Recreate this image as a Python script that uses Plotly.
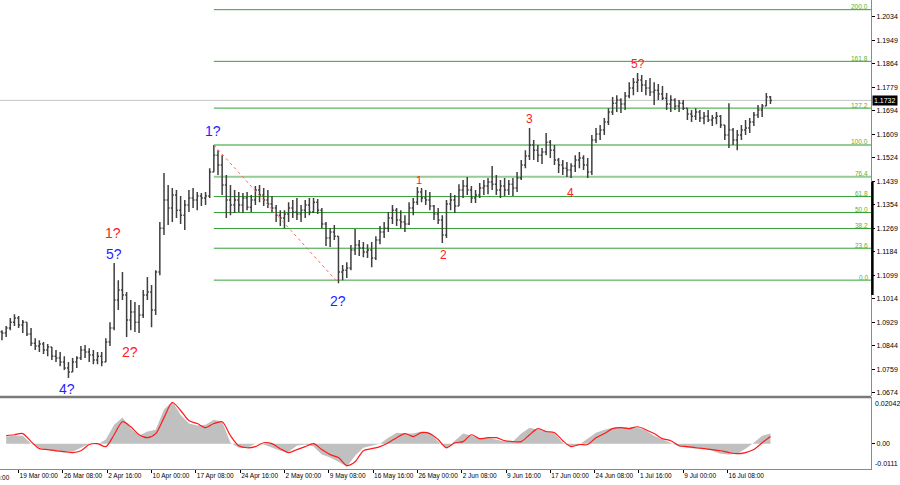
import plotly.graph_objects as go

# ---------------- DATA (EUR/USD, 12h bars) ----------------
highs = [
    1.0901, 1.0916, 1.0945, 1.0959, 1.0952, 1.0938, 1.0930, 1.0909, 1.0872, 1.0865,
    1.0858, 1.0851, 1.0840, 1.0829, 1.0822, 1.0807, 1.0786, 1.0800, 1.0807, 1.0844,
    1.0847, 1.0836, 1.0829, 1.0822, 1.0822, 1.0872, 1.0930, 1.1144, 1.1082, 1.1111,
    1.1039, 1.1010, 1.1003, 1.0992, 1.1046, 1.1093, 1.1064, 1.1118, 1.1292, 1.1469,
    1.1426, 1.1415, 1.1408, 1.1386, 1.1372, 1.1408, 1.1415, 1.1401, 1.1397, 1.1401,
    1.1487, 1.1571, 1.1552, 1.1534, 1.1462, 1.1426, 1.1408, 1.1401, 1.1397, 1.1401,
    1.1390, 1.1422, 1.1426, 1.1415, 1.1408, 1.1386, 1.1354, 1.1335, 1.1335, 1.1364,
    1.1372, 1.1379, 1.1354, 1.1372, 1.1379, 1.1379, 1.1375, 1.1343, 1.1292, 1.1270,
    1.1281, 1.1241, 1.1137, 1.1147, 1.1209, 1.1267, 1.1227, 1.1220, 1.1212, 1.1220,
    1.1241, 1.1278, 1.1292, 1.1328, 1.1354, 1.1343, 1.1335, 1.1317, 1.1364, 1.1379,
    1.1419, 1.1415, 1.1408, 1.1401, 1.1354, 1.1343, 1.1317, 1.1372, 1.1397, 1.1390,
    1.1429, 1.1444, 1.1455, 1.1422, 1.1408, 1.1433, 1.1444, 1.1451, 1.1495, 1.1462,
    1.1444, 1.1451, 1.1444, 1.1451, 1.1473, 1.1516, 1.1552, 1.1632, 1.1589, 1.1571,
    1.1560, 1.1614, 1.1589, 1.1571, 1.1524, 1.1516, 1.1509, 1.1505, 1.1534, 1.1545,
    1.1534, 1.1524, 1.1607, 1.1632, 1.1643, 1.1668, 1.1704, 1.1744, 1.1751, 1.1740,
    1.1762, 1.1798, 1.1813, 1.1831, 1.1824, 1.1806, 1.1813, 1.1798, 1.1791, 1.1784,
    1.1759, 1.1751, 1.1740, 1.1733, 1.1733, 1.1704, 1.1697, 1.1704, 1.1697, 1.1690,
    1.1697, 1.1679, 1.1690, 1.1679, 1.1643, 1.1722, 1.1632, 1.1625, 1.1643, 1.1661,
    1.1668, 1.1690, 1.1715, 1.1719, 1.1759, 1.1748,
]
lows = [
    1.0865, 1.0876, 1.0901, 1.0916, 1.0909, 1.0891, 1.0880, 1.0844, 1.0829, 1.0822,
    1.0815, 1.0807, 1.0793, 1.0786, 1.0771, 1.0757, 1.0728, 1.0750, 1.0764, 1.0793,
    1.0800, 1.0786, 1.0778, 1.0778, 1.0771, 1.0786, 1.0844, 1.0901, 1.0974, 1.1010,
    1.0876, 1.0901, 1.0894, 1.0891, 1.0945, 1.1010, 1.0912, 1.0956, 1.1100, 1.1245,
    1.1281, 1.1292, 1.1307, 1.1285, 1.1263, 1.1328, 1.1343, 1.1335, 1.1350, 1.1354,
    1.1379, 1.1473, 1.1462, 1.1390, 1.1307, 1.1317, 1.1325, 1.1328, 1.1325, 1.1335,
    1.1328, 1.1354, 1.1364, 1.1350, 1.1343, 1.1328, 1.1292, 1.1278, 1.1270, 1.1292,
    1.1307, 1.1299, 1.1292, 1.1307, 1.1317, 1.1325, 1.1321, 1.1270, 1.1205, 1.1202,
    1.1227, 1.1071, 1.1082, 1.1090, 1.1118, 1.1173, 1.1169, 1.1165, 1.1162, 1.1129,
    1.1155, 1.1212, 1.1234, 1.1256, 1.1285, 1.1278, 1.1270, 1.1256, 1.1281, 1.1317,
    1.1354, 1.1364, 1.1354, 1.1335, 1.1299, 1.1285, 1.1216, 1.1234, 1.1335, 1.1325,
    1.1350, 1.1379, 1.1390, 1.1361, 1.1361, 1.1379, 1.1390, 1.1393, 1.1408, 1.1390,
    1.1379, 1.1386, 1.1390, 1.1386, 1.1401, 1.1444, 1.1487, 1.1516, 1.1516, 1.1509,
    1.1502, 1.1534, 1.1524, 1.1498, 1.1469, 1.1462, 1.1455, 1.1451, 1.1473, 1.1487,
    1.1480, 1.1451, 1.1462, 1.1578, 1.1589, 1.1607, 1.1643, 1.1679, 1.1690, 1.1686,
    1.1697, 1.1740, 1.1751, 1.1762, 1.1762, 1.1751, 1.1748, 1.1715, 1.1733, 1.1733,
    1.1697, 1.1690, 1.1697, 1.1690, 1.1697, 1.1661, 1.1654, 1.1661, 1.1654, 1.1646,
    1.1654, 1.1639, 1.1646, 1.1632, 1.1589, 1.1560, 1.1571, 1.1552, 1.1589, 1.1607,
    1.1614, 1.1639, 1.1668, 1.1672, 1.1712, 1.1719,
]
closes = [
    1.0891, 1.0909, 1.0930, 1.0945, 1.0920, 1.0930, 1.0887, 1.0854, 1.0844, 1.0851,
    1.0829, 1.0840, 1.0807, 1.0800, 1.0786, 1.0764, 1.0750, 1.0786, 1.0800, 1.0829,
    1.0822, 1.0811, 1.0793, 1.0807, 1.0786, 1.0858, 1.0909, 1.1010, 1.1046, 1.1028,
    1.0938, 1.0967, 1.0930, 1.0956, 1.1028, 1.1039, 1.0974, 1.1111, 1.1270, 1.1372,
    1.1343, 1.1390, 1.1335, 1.1317, 1.1354, 1.1379, 1.1372, 1.1386, 1.1379, 1.1386,
    1.1473, 1.1534, 1.1498, 1.1426, 1.1372, 1.1354, 1.1372, 1.1354, 1.1379, 1.1346,
    1.1372, 1.1408, 1.1390, 1.1372, 1.1357, 1.1343, 1.1317, 1.1307, 1.1321, 1.1343,
    1.1328, 1.1321, 1.1335, 1.1354, 1.1328, 1.1364, 1.1335, 1.1285, 1.1234, 1.1256,
    1.1241, 1.1111, 1.1118, 1.1126, 1.1191, 1.1209, 1.1198, 1.1184, 1.1191, 1.1162,
    1.1227, 1.1256, 1.1270, 1.1307, 1.1335, 1.1299, 1.1292, 1.1285, 1.1343, 1.1364,
    1.1401, 1.1379, 1.1372, 1.1350, 1.1321, 1.1299, 1.1245, 1.1357, 1.1372, 1.1350,
    1.1408, 1.1422, 1.1408, 1.1379, 1.1390, 1.1415, 1.1422, 1.1437, 1.1429, 1.1408,
    1.1422, 1.1408, 1.1429, 1.1415, 1.1451, 1.1498, 1.1531, 1.1571, 1.1552, 1.1534,
    1.1545, 1.1581, 1.1552, 1.1516, 1.1498, 1.1487, 1.1480, 1.1495, 1.1516, 1.1524,
    1.1498, 1.1473, 1.1589, 1.1610, 1.1625, 1.1654, 1.1690, 1.1722, 1.1733, 1.1719,
    1.1748, 1.1777, 1.1798, 1.1806, 1.1788, 1.1777, 1.1762, 1.1769, 1.1755, 1.1740,
    1.1719, 1.1733, 1.1712, 1.1722, 1.1704, 1.1683, 1.1675, 1.1690, 1.1668, 1.1675,
    1.1661, 1.1668, 1.1675, 1.1643, 1.1607, 1.1625, 1.1589, 1.1607, 1.1625, 1.1632,
    1.1654, 1.1679, 1.1697, 1.1712, 1.1744, 1.1732,
]
first_open = 1.0895

# Oscillator (histogram + red signal line), one value per two bars
osc_hist = [
    0.0031, 0.0035, 0.0035, 0.0, -0.0018, -0.0026, -0.0035, -0.0039, -0.0035, -0.0018,
    0.0, -0.0004, 0.0018, 0.0083, 0.0114, 0.0066, 0.0035, 0.0053, 0.0061, 0.0149,
    0.0184, 0.0127, 0.0088, 0.0079, 0.0083, 0.0105, 0.0096, 0.0004, -0.0018, -0.0018,
    0.0, -0.0004, -0.0018, -0.0031, -0.0035, -0.0009, -0.0004, -0.0013, -0.0048, -0.0061,
    -0.0079, -0.0101, -0.0053, -0.0018, -0.0009, 0.0, 0.0026, 0.0048, 0.0044, 0.0044,
    0.0053, 0.0048, 0.0009, -0.0022, 0.0013, 0.0044, 0.0035, 0.0022, 0.0026, 0.0018,
    0.0009, 0.0009, 0.0044, 0.0070, 0.0061, 0.0053, 0.0044, 0.0004, -0.0013, -0.0004,
    0.0022, 0.0048, 0.0061, 0.0070, 0.0074, 0.0070, 0.0070, 0.0057, 0.0035, 0.0018,
    0.0004, -0.0013, -0.0018, -0.0022, -0.0022, -0.0031, -0.0044, -0.0048, -0.0044, -0.0022,
    0.0004, 0.0035, 0.0044,
]
osc_signal = [
    0.0035, 0.0039, 0.0044, 0.0009, -0.0022, -0.0026, -0.0031, -0.0035, -0.0039, -0.0031,
    -0.0004, 0.0, -0.0013, 0.0039, 0.0096, 0.0074, 0.0039, 0.0026, 0.0044, 0.0114,
    0.0180, 0.0145, 0.0101, 0.0088, 0.0070, 0.0088, 0.0096, 0.0035, -0.0009, -0.0018,
    -0.0013, 0.0004, 0.0, -0.0022, -0.0039, -0.0026, -0.0013, 0.0, -0.0026, -0.0048,
    -0.0061, -0.0096, -0.0079, -0.0031, -0.0022, -0.0013, 0.0004, 0.0026, 0.0044, 0.0031,
    0.0048, 0.0044, 0.0018, -0.0018, 0.0004, 0.0009, 0.0039, 0.0022, 0.0026, 0.0026,
    0.0013, 0.0009, 0.0009, 0.0039, 0.0066, 0.0053, 0.0048, 0.0013, -0.0013, -0.0004,
    -0.0004, 0.0026, 0.0044, 0.0066, 0.0070, 0.0066, 0.0074, 0.0061, 0.0044, 0.0022,
    0.0013, -0.0009, -0.0013, -0.0018, -0.0022, -0.0026, -0.0031, -0.0039, -0.0044, -0.0039,
    -0.0026, 0.0004, 0.0031,
]

x_tick_labels = [
    "19 Mar 00:00", "26 Mar 08:00", "2 Apr 16:00", "10 Apr 00:00", "17 Apr 08:00",
    "24 Apr 16:00", "2 May 00:00", "9 May 08:00", "16 May 16:00", "26 May 00:00",
    "2 Jun 08:00", "9 Jun 16:00", "17 Jun 00:00", "24 Jun 08:00", "1 Jul 16:00",
    "9 Jul 00:00", "16 Jul 08:00",
]
first_partial_label = "14 Mar 16:00"

price_ticks = [1.2034, 1.1949, 1.1864, 1.1779, 1.1694, 1.1609, 1.1524, 1.1439, 1.1354,
               1.1269, 1.1184, 1.1099, 1.1014, 1.0929, 1.0844, 1.0759, 1.0674]
osc_top_label = "0.02042"
osc_zero_label = "0.00"
osc_bottom_label = "-0.0111"
osc_max = 0.02042
osc_min = -0.0111

fib_ratios = [0.0, 23.6, 38.2, 50.0, 61.8, 76.4, 100.0, 127.2, 161.8, 200.0]
fib_zero_price = 1.1082
fib_hundred_price = 1.1571
current_price = 1.1732

# wave labels: text, bar index, attached to 'high' or 'low'
wave_texts = ["4?", "5?", "1?", "2?", "1?", "2?", "1", "2", "3", "4", "5?"]
wave_bars = [16, 27, 27, 30, 51, 81, 100, 106, 127, 137, 153]
wave_sides = ["low", "high", "high", "low", "high", "low", "high", "low", "high", "low", "high"]

# ---------------- STYLE ----------------
FONT = "Liberation Sans, Arial, sans-serif"
BLUE = "#1f1fff"
RED = "#ff2020"
wave_colors = [BLUE, BLUE, RED, RED, BLUE, BLUE, RED, RED, RED, RED, RED]
wave_sizes = [14, 14, 14, 14, 14, 14, 11, 12, 12, 12, 12]
wave_yshift = [-1, -1, 20, -5, 4, -8, -1, -3, 0, -6, 0]
wave_xshift = [-1, 0, -1, 3, -1, 0, 2, 1, 0, -1, 0]

W, H = 900, 485
M_L, M_R, M_T, M_B = 0, 29, 0, 16
PLOT_H = H - M_T - M_B           # 469
PLOT_W = W - M_L - M_R           # 871
MAIN_BOTTOM = (PLOT_H - 396) / PLOT_H
OSC_TOP = (PLOT_H - 397) / PLOT_H
X_RANGE = [-0.44, 628.6]
PRICE_RANGE = [1.0663, 1.2095]

bar_x = [3 * i + 1 for i in range(len(closes))]
opens = []
prev = first_open
for hi, lo, cl in zip(highs, lows, closes):
    opens.append(min(max(prev, lo), hi))
    prev = cl
osc_x = [6 * k + 4 for k in range(len(osc_hist))]

fig = go.Figure()

fig.add_trace(go.Ohlc(
    x=bar_x, open=opens, high=highs, low=lows, close=closes,
    increasing=dict(line=dict(color="#3f3f3f", width=1.5)),
    decreasing=dict(line=dict(color="#3f3f3f", width=1.5)),
    tickwidth=0.35, xaxis="x", yaxis="y", hoverinfo="skip", showlegend=False,
))

fig.add_trace(go.Scatter(
    x=osc_x, y=osc_hist, xaxis="x2", yaxis="y2", mode="lines",
    line=dict(width=0, color="#c0c0c0"), fill="tozeroy", fillcolor="#c0c0c0",
    hoverinfo="skip", showlegend=False,
))
fig.add_trace(go.Scatter(
    x=osc_x, y=osc_signal, xaxis="x2", yaxis="y2", mode="lines",
    line=dict(width=1.2, color="#ff1a1a", shape="spline", smoothing=0.8),
    hoverinfo="skip", showlegend=False,
))

shapes = []
annotations = []

# current price line
shapes.append(dict(type="line", xref="x", yref="y", x0=X_RANGE[0], x1=X_RANGE[1],
                   y0=current_price, y1=current_price,
                   line=dict(color="#c4c4c4", width=1), layer="below"))

# fibonacci levels from the wave "1?" top to the right edge
fib_start = bar_x[wave_bars[4]]
for r in fib_ratios:
    lvl = fib_zero_price + r / 100.0 * (fib_hundred_price - fib_zero_price)
    soft = r in (76.4, 100.0)
    shapes.append(dict(type="line", xref="x", yref="y", x0=fib_start, x1=X_RANGE[1],
                       y0=lvl, y1=lvl, layer="below",
                       line=dict(color="#93cd93" if soft else "#35a035",
                                 width=2 if soft else 1)))
    annotations.append(dict(xref="paper", yref="y", x=1.0, y=lvl, xanchor="right",
                            yanchor="bottom", xshift=-1, yshift=-2.5, text=f"{r:.1f}",
                            showarrow=False,
                            font=dict(family=FONT, size=6.5, color="#5caf32")))

# dotted red line between wave 1? top and wave 2? bottom
shapes.append(dict(type="line", xref="x", yref="y",
                   x0=bar_x[wave_bars[4]], y0=highs[wave_bars[4]],
                   x1=bar_x[wave_bars[5]], y1=lows[wave_bars[5]],
                   line=dict(color="#ff6a6a", width=1, dash="dot")))

# panel separator and borders
shapes.append(dict(type="line", xref="paper", yref="paper", x0=0, x1=1,
                   y0=OSC_TOP, y1=OSC_TOP, line=dict(color="#7a7a7a", width=2.5)))
shapes.append(dict(type="line", xref="paper", yref="paper", x0=1.0016, x1=1.0016,
                   y0=(PLOT_H - 295) / PLOT_H, y1=(PLOT_H - 182) / PLOT_H,
                   line=dict(color="#000000", width=2.5)))

# wave labels
for t, b, side, col, sz, ys, xs in zip(wave_texts, wave_bars, wave_sides, wave_colors,
                                         wave_sizes, wave_yshift, wave_xshift):
    yv = highs[b] if side == "high" else lows[b]
    annotations.append(dict(xref="x", yref="y", x=bar_x[b], y=yv, text=t, showarrow=False,
                            xanchor="center", yanchor="bottom" if side == "high" else "top",
                            yshift=ys, xshift=xs,
                            font=dict(family=FONT, size=sz, color=col)))

# current price box
annotations.append(dict(xref="paper", yref="y", x=1.0, y=current_price, xanchor="left",
                        yanchor="middle", xshift=1, text=f"{current_price:.4f}",
                        showarrow=False, bgcolor="#000000", borderpad=1,
                        font=dict(family=FONT, size=7, color="#ffffff")))

# oscillator scale labels (top/bottom extremes)
annotations.append(dict(xref="paper", yref="y2", x=1.0, y=osc_max, xanchor="left",
                        yanchor="top", xshift=2, yshift=-1, text=osc_top_label,
                        showarrow=False, font=dict(family=FONT, size=7, color="#000000")))
annotations.append(dict(xref="paper", yref="y2", x=1.0, y=osc_min, xanchor="left",
                        yanchor="bottom", xshift=2, yshift=0, text=osc_bottom_label,
                        showarrow=False, font=dict(family=FONT, size=7, color="#000000")))

# partially visible first date label (cut by the left edge, as in the source)
annotations.append(dict(xref="paper", yref="paper", x=12 / PLOT_W, y=-8.5 / PLOT_H,
                        xanchor="right", yanchor="middle", text=first_partial_label,
                        showarrow=False, font=dict(family=FONT, size=6.5, color="#000000")))

tick_pos = [13 + 32 * k for k in range(len(x_tick_labels))]

fig.update_layout(
    width=W, height=H,
    margin=dict(l=M_L, r=M_R, t=M_T, b=M_B, pad=0),
    paper_bgcolor="#ffffff", plot_bgcolor="#ffffff",
    showlegend=False, hovermode=False,
    font=dict(family=FONT, size=7, color="#000000"),
    xaxis=dict(domain=[0, 1], range=X_RANGE, anchor="y", showticklabels=False,
               showgrid=False, zeroline=False, ticks="", showline=False,
               rangeslider=dict(visible=False), fixedrange=True),
    yaxis=dict(domain=[MAIN_BOTTOM, 1], range=PRICE_RANGE, side="right", anchor="x",
               tickvals=price_ticks, ticktext=[f"{v:.4f}" for v in price_ticks],
               ticks="outside", ticklen=3, tickcolor="#000000", tickwidth=1,
               showline=True, linecolor="#8a8a8a", linewidth=1,
               showgrid=False, zeroline=False,
               tickfont=dict(family=FONT, size=7, color="#000000")),
    xaxis2=dict(domain=[0, 1], range=X_RANGE, anchor="y2",
                tickvals=tick_pos, ticktext=x_tick_labels, tickangle=0,
                ticks="outside", ticklen=3, tickcolor="#000000",
                ticklabelposition="outside right",
                showline=True, linecolor="#8a8a8a", linewidth=1,
                showgrid=False, zeroline=False,
                tickfont=dict(family=FONT, size=6.5, color="#000000")),
    yaxis2=dict(domain=[0, OSC_TOP], range=[osc_min, osc_max], side="right", anchor="x2",
                tickvals=[0.0], ticktext=[osc_zero_label],
                ticks="outside", ticklen=3, tickcolor="#000000",
                showline=True, linecolor="#8a8a8a", linewidth=1,
                showgrid=False, zeroline=False,
                tickfont=dict(family=FONT, size=7, color="#000000")),
    shapes=shapes,
    annotations=annotations,
)

fig.write_html("out.html", config={"displayModeBar": False, "staticPlot": True})

# remove the browser's default page margin so the figure sits at the window origin
with open("out.html", "r", encoding="utf-8") as fh:
    page = fh.read()
page = page.replace("<body>", '<body style="margin:0;padding:0;overflow:hidden">', 1)
with open("out.html", "w", encoding="utf-8") as fh:
    fh.write(page)
